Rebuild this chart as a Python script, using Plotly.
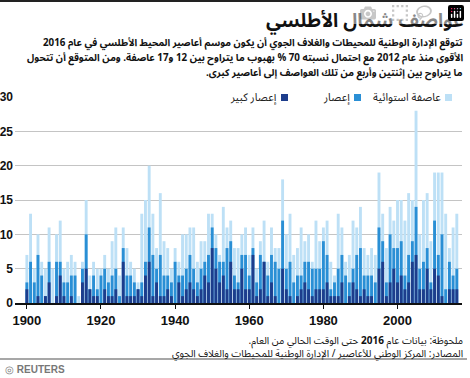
import plotly.graph_objects as go

years = list(range(1900, 2017))

storms = [7, 13, 5, 10, 6, 5, 11, 5, 10, 12,
          5, 6, 7, 6, 1, 6, 15, 4, 6, 5,
          5, 7, 5, 9, 11, 4, 11, 8, 6, 5,
          3, 13, 15, 20, 13, 8, 16, 9, 8, 5,
          8, 6, 10, 10, 11, 11, 6, 9, 9, 13,
          13, 10, 7, 14, 11, 12, 8, 8, 10, 11,
          7, 11, 5, 9, 12, 6, 11, 8, 8, 18,
          10, 13, 7, 8, 11, 9, 10, 6, 12, 9,
          11, 12, 6, 4, 13, 11, 6, 7, 12, 11,
          14, 8, 7, 8, 7, 19, 13, 8, 14, 12,
          15, 15, 12, 16, 15, 28, 10, 15, 16, 9,
          19, 19, 19, 13, 8, 11, 13]

hurricanes = [3, 6, 3, 7, 4, 1, 6, 0, 6, 6,
              3, 3, 4, 4, 0, 5, 10, 2, 4, 2,
              4, 5, 3, 4, 5, 1, 8, 4, 4, 3,
              2, 3, 6, 11, 7, 5, 7, 4, 4, 3,
              6, 4, 4, 5, 7, 5, 3, 5, 6, 7,
              11, 8, 6, 6, 8, 9, 4, 3, 7, 7,
              4, 8, 3, 7, 6, 4, 7, 6, 5, 12,
              5, 6, 3, 4, 4, 6, 6, 5, 5, 5,
              9, 7, 2, 3, 5, 7, 4, 3, 5, 7,
              8, 4, 4, 4, 3, 11, 9, 3, 10, 8,
              8, 9, 4, 7, 9, 14, 5, 6, 8, 3,
              12, 7, 10, 2, 6, 4, 5]

major = [2, 0, 0, 1, 0, 1, 3, 0, 1, 4,
         1, 0, 1, 0, 0, 3, 5, 2, 1, 1,
         0, 2, 1, 1, 2, 0, 6, 1, 1, 1,
         2, 1, 4, 6, 1, 3, 1, 1, 2, 1,
         0, 3, 1, 2, 3, 2, 1, 2, 4, 3,
         8, 5, 3, 4, 2, 6, 2, 2, 5, 2,
         2, 7, 1, 2, 6, 1, 3, 1, 0, 5,
         2, 1, 0, 1, 2, 3, 2, 1, 2, 2,
         2, 3, 1, 1, 1, 3, 0, 1, 3, 2,
         1, 2, 1, 1, 0, 5, 6, 1, 3, 5,
         3, 4, 2, 3, 6, 7, 2, 2, 5, 2,
         5, 4, 1, 0, 2, 2, 2]

y_ticks = [0, 5, 10, 15, 20, 25, 30]
x_ticks = [1900, 1920, 1940, 1960, 1980, 2000]

series_names = ["عاصفة استوائية", "إعصار", "إعصار كبير"]
colors = ["#bde0f6", "#2a8fd5", "#1d3d8c"]

W, H = 470, 378
L, R, T, B = 15, 8, 97, 75
PW = W - L - R
PH = H - T - B


def px(x):
    return (x - L) / PW


def py(y):
    return (H - B - y) / PH


AR = "Noto Sans Arabic, DejaVu Sans"
RLM = "\u200f"

fig = go.Figure()
for vals, name, col in zip([storms, hurricanes, major], series_names, colors):
    fig.add_trace(go.Bar(x=years, y=vals, name=name, marker_color=col,
                         marker_line_width=0, width=0.78, hoverinfo="skip"))

fig.update_layout(
    width=W, height=H,
    margin=dict(l=L, r=R, t=T, b=B),
    barmode="overlay",
    showlegend=False,
    plot_bgcolor="white", paper_bgcolor="white",
    xaxis=dict(range=[1896.8, 2017.4], tickvals=x_ticks, ticktext=[str(v) for v in x_ticks],
               showgrid=False, showline=True, linecolor="#111", linewidth=2,
               ticks="outside", ticklen=4, tickcolor="#111", automargin=False,
               tickfont=dict(family="Liberation Sans", size=13, color="#111", weight="bold"),
               zeroline=False, fixedrange=True),
    yaxis=dict(range=[0, 30], tickvals=y_ticks, showgrid=True, gridcolor="#c4c4c4", gridwidth=1,
               zeroline=False, ticks="", ticklabelstandoff=1, automargin=False,
               tickfont=dict(family="Liberation Sans", size=12, color="#111", weight="bold"),
               fixedrange=True),
)

shapes = []
shapes.append(dict(type="line", xref="paper", yref="paper", x0=px(0), x1=px(470),
                   y0=py(1), y1=py(1), line=dict(color="#222", width=2)))
shapes.append(dict(type="rect", xref="paper", yref="paper", x0=px(205), x1=px(466),
                   y0=py(106), y1=py(88), fillcolor="white", line=dict(width=0), layer="above"))
shapes.append(dict(type="rect", xref="paper", yref="paper", x0=px(15), x1=px(45),
                   y0=py(100), y1=py(94), fillcolor="white", line=dict(width=0), layer="above"))
shapes.append(dict(type="line", xref="paper", yref="paper", x0=px(0), x1=px(467),
                   y0=py(359), y1=py(359), line=dict(color="#8a8a8a", width=1.5)))

annotations = []
leg_sq = [452, 361, 288]
for name, col, sx in zip(series_names, colors, leg_sq):
    shapes.append(dict(type="rect", xref="paper", yref="paper", x0=px(sx - 7), x1=px(sx),
                       y0=py(101), y1=py(94), fillcolor=col, line=dict(width=0), layer="above"))
    annotations.append(dict(x=px(sx - 9), y=py(97), xref="paper", yref="paper",
                            text=name, showarrow=False, xanchor="right", yanchor="middle",
                            align="right", font=dict(family=AR, size=11, color="#222")))

annotations.append(dict(x=px(466), y=py(21), xref="paper", yref="paper",
                        text="عواصف شمال الأطلسي", showarrow=False,
                        xanchor="right", yanchor="middle", align="right",
                        font=dict(family=AR, size=19, color="#111", weight="bold")))

sub_lines = [
    "تتوقع الإدارة الوطنية للمحيطات والغلاف الجوي أن يكون موسم أعاصير المحيط الأطلسي في عام 2016",
    "الأقوى منذ عام 2012 مع احتمال نسبته 70 % بهبوب ما يتراوح بين 12 و17 عاصفة. ومن المتوقع أن تتحول",
    "ما يتراوح بين إثنتين وأربع من تلك العواصف إلى أعاصير كبرى." + RLM,
]
for i, line in enumerate(sub_lines):
    annotations.append(dict(x=px(465), y=py(43 + 15 * i), xref="paper", yref="paper",
                            text=line, showarrow=False, xanchor="right", yanchor="middle",
                            align="right", font=dict(family=AR, size=9.8, color="#111", weight="bold")))

foot_lines = [
    "ملحوظة: بيانات عام <b>2016</b> حتى الوقت الحالي من العام." + RLM,
    "المصادر: المركز الوطني للأعاصير / الإدارة الوطنية للمحيطات والغلاف الجوي",
]
annotations.append(dict(x=px(465), y=py(346.5), xref="paper", yref="paper",
                        text="<br>".join(foot_lines), showarrow=False, xanchor="right", yanchor="middle",
                        align="right", font=dict(family=AR, size=10, color="#111")))

annotations.append(dict(x=px(3), y=py(369), xref="paper", yref="paper",
                        text="◎ <b>REUTERS</b>", showarrow=False, xanchor="left", yanchor="middle",
                        font=dict(family="Liberation Sans", size=10, color="#777")))

fig.update_layout(shapes=shapes, annotations=annotations)
fig.write_html("out.html", post_script="document.body.style.margin='0px';")
